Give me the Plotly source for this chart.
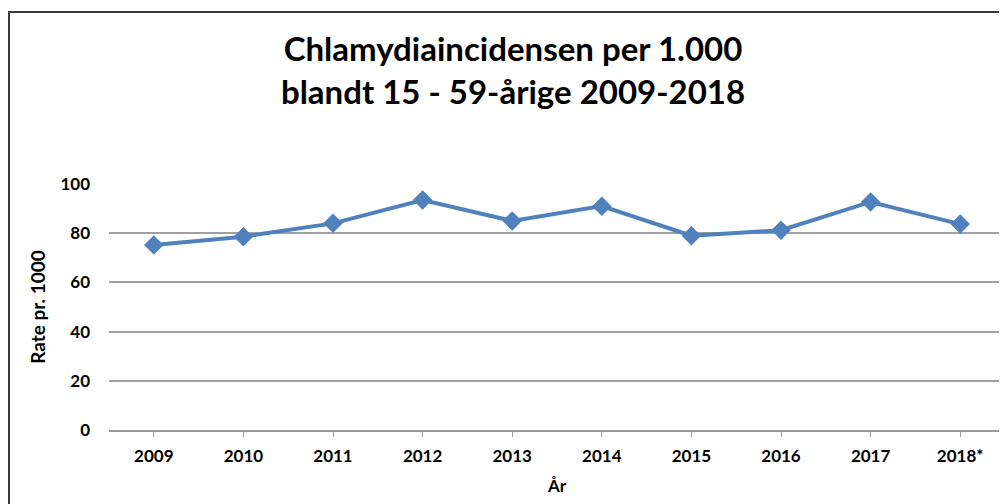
import plotly.graph_objects as go

years = ["2009", "2010", "2011", "2012", "2013", "2014", "2015", "2016", "2017", "2018*"]
rates = [75.2, 78.6, 84.0, 93.5, 85.0, 91.0, 79.0, 81.2, 92.7, 83.7]
y_ticks = [0, 20, 40, 60, 80, 100]

FONT = "Lato"
BLUE = "#4F81BD"

fig = go.Figure()
fig.add_trace(go.Scatter(
    x=list(range(len(years))), y=rates, mode="lines+markers",
    line=dict(color=BLUE, width=4),
    marker=dict(symbol="diamond", size=15, color=BLUE),
    hoverinfo="x+y", showlegend=False,
))

# page body has an 8px margin, so figure is sized/offset accordingly
OFF = 8
W, H = 1007 - OFF, 504 - OFF
L, R, T, B = 109 - OFF, 2, 184 - OFF, 74
pw, ph = W - L - R, H - T - B

fig.update_layout(
    width=W, height=H,
    margin=dict(l=L, r=R, t=T, b=B),
    paper_bgcolor="white", plot_bgcolor="white",
    title=dict(
        text="<b>Chlamydiaincidensen per 1.000<br>blandt 15 - 59-årige 2009-2018</b>",
        x=(513 - OFF) / W, xanchor="center", y=1 - (61 - OFF) / H, yanchor="middle",
        font=dict(family=FONT, size=33, color="black"),
    ),
    font=dict(family=FONT, color="black"),
    xaxis=dict(
        range=[-0.5, len(years) - 0.5],
        tickmode="array", tickvals=list(range(len(years))), ticktext=years,
        showgrid=False, showline=True, linecolor="#9a9a9a", linewidth=1.5,
        ticks="outside", ticklen=5, tickcolor="#9a9a9a",
        tickfont=dict(family=FONT, size=17, color="black", weight="bold"),
        ticklabelstandoff=5,
        title=dict(text="<b>År</b>", font=dict(family=FONT, size=17, color="black"), standoff=15),
        zeroline=False,
    ),
    yaxis=dict(
        range=[0, 100],
        tickmode="array", tickvals=y_ticks,
        showgrid=True, gridcolor="#a0a0a0", gridwidth=1.5,
        zeroline=False, showline=False,
        tickfont=dict(family=FONT, size=17, color="black", weight="bold"),
        ticklabelstandoff=18,
        title=dict(text="<b>Rate pr. 1000</b>", font=dict(family=FONT, size=19, color="black"), standoff=9),
    ),
    shapes=[dict(
        type="rect", xref="paper", yref="paper",
        x0=-(L - 1) / pw, x1=1.2, y0=-0.6, y1=(430 - 12) / ph,
        line=dict(color="#3a3a3a", width=2), layer="below",
    )],
)

fig.write_html("out.html")
